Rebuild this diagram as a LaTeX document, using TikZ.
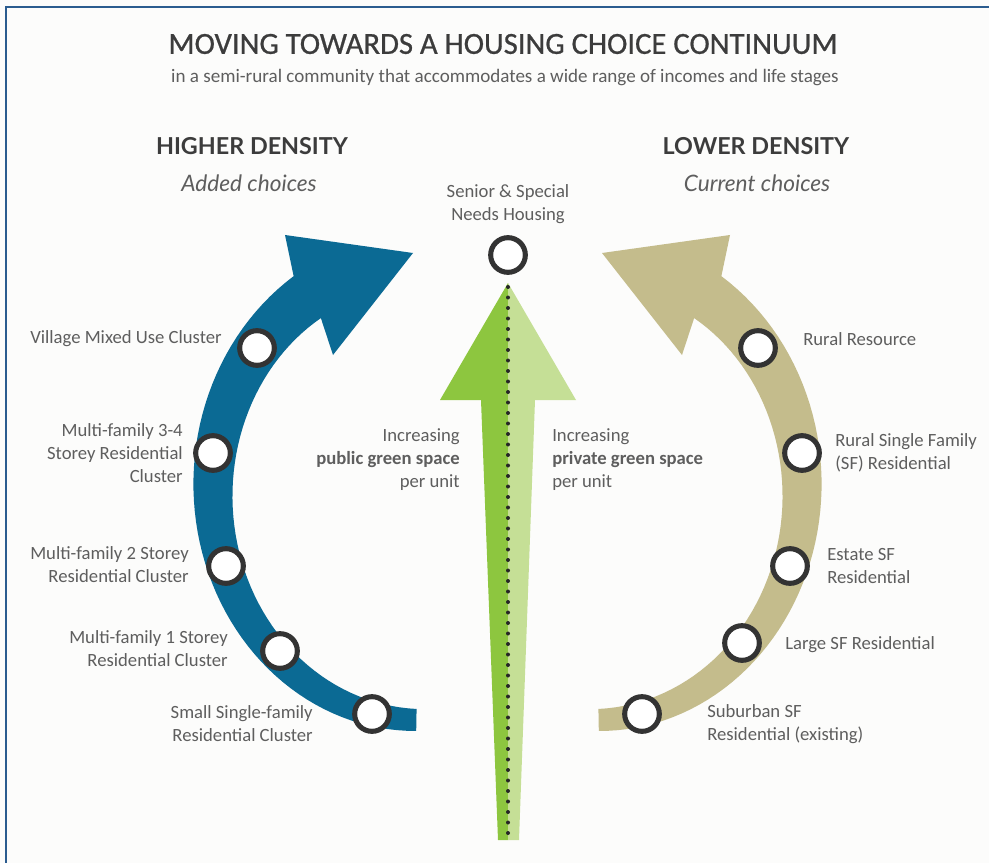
\documentclass[tikz,border=0pt]{standalone}
\usepackage{fontspec}
\setmainfont{Carlito}
\newfontfamily\headfont{Lato}
\newfontfamily\titlefont[FakeBold=0.7]{Carlito}
\begin{document}
\definecolor{framecol}{HTML}{2B5C8F}
\definecolor{bgcol}{HTML}{FCFCFB}
\definecolor{titlecol}{HTML}{3C3C3C}
\definecolor{labelcol}{HTML}{5E5E5E}
\definecolor{bluearr}{HTML}{0B6A94}
\definecolor{tanarr}{HTML}{C4BC8C}
\definecolor{greendark}{HTML}{8DC63F}
\definecolor{greenlight}{HTML}{C5DF96}
\definecolor{ringcol}{HTML}{333333}
\begin{tikzpicture}[x=0.75pt,y=-0.75pt,
  ring/.style={circle,draw=ringcol,line width=3.8pt,fill=white,minimum size=26pt,inner sep=0pt},
  lbl/.style={text=labelcol,inner sep=0pt,font=\fontsize{14}{17.25}\selectfont},
  lblL/.style={lbl,anchor=east,align=right},
  lblR/.style={lbl,anchor=west,align=left},
  heading/.style={text=titlecol,inner sep=0pt,font=\headfont\bfseries\fontsize{17.5}{20}\selectfont},
  subhead/.style={text=labelcol,inner sep=0pt,font=\headfont\itshape\fontsize{17}{20}\selectfont},
  dots/.style={draw=black!85,line width=3pt,line cap=round,dash pattern=on 0pt off 7.875pt}
]
\clip (0,0) rectangle (989,863);
\fill[bgcol] (0,0) rectangle (989,863);
\draw[framecol,line width=1.6pt] (6,7) rectangle (1010,900);

% titles
\node[text=titlecol,inner sep=0pt,font=\titlefont\fontsize{23}{26}\selectfont] (title) at (503,44) {MOVING TOWARDS A HOUSING CHOICE CONTINUUM};
\node[text=labelcol,inner sep=0pt,font=\fontsize{14.3}{17}\selectfont] (subtitle) at (505,78) {in a semi-rural community that accommodates a wide range of incomes and life stages};

\node[heading] (hd) at (252,146) {HIGHER DENSITY};
\node[subhead] (hdsub) at (249,183) {Added choices};
\node[heading] (ld) at (756,146) {LOWER DENSITY};
\node[subhead] (ldsub) at (757,183) {Current choices};

% curved band with arrow head, used on both sides
\newcommand{\bandpath}{%
  plot[domain=91:237,samples=60,variable=\t]
    ({420+(207+11+0.0959*(\t-91))*cos(\t)},{490+(230+11+0.0959*(\t-91))*sin(\t)})
  -- (285,235) -- (413,253) -- (333,355) --
  plot[domain=237:91,samples=60,variable=\t]
    ({420+(207-11-0.0959*(\t-91))*cos(\t)},{490+(230-11-0.0959*(\t-91))*sin(\t)})
  -- cycle}
\fill[bluearr] \bandpath;
\begin{scope}[shift={(1015,0)},xscale=-1]
  \fill[tanarr] \bandpath;
\end{scope}

% central green arrow
\fill[greendark] (508,283) -- (440,400) -- (481,400) -- (498,840) -- (508,840) -- cycle;
\fill[greenlight] (508,283) -- (576,400) -- (535,400) -- (519,840) -- (508,840) -- cycle;
\coordinate (dtop) at (508,287);
\coordinate (dbot) at (508,840);
\draw[dots] (dtop) -- (dbot);

% rings
\node[ring] (senior) at (508,255) {};
\node[ring] (l1) at (257,348) {};
\node[ring] (l2) at (213,453) {};
\node[ring] (l3) at (226,566) {};
\node[ring] (l4) at (280,651) {};
\node[ring] (l5) at (372,714) {};
\node[ring] (r1) at (758,348) {};
\node[ring] (r2) at (802,453) {};
\node[ring] (r3) at (790,566) {};
\node[ring] (r4) at (742,643) {};
\node[ring] (r5) at (642,714) {};

% labels
\node[lbl,align=center] (seniorlbl) at (508,204) {Senior \& Special\\Needs Housing};
\node[lblL] (t1) at (222,339) {Village Mixed Use Cluster};
\node[lblL] (t2) at (183,453) {Multi-family 3-4\\Storey Residential\\Cluster};
\node[lblL] (t3) at (189,565) {Multi-family 2 Storey\\Residential Cluster};
\node[lblL] (t4) at (228,649) {Multi-family 1 Storey\\Residential Cluster};
\node[lblL] (t5) at (313,724) {Small Single-family\\Residential Cluster};
\node[lblR] (s1) at (803,339) {Rural Resource};
\node[lblR] (s2) at (835,453) {Rural Single Family\\(SF) Residential};
\node[lblR] (s3) at (827,566) {Estate SF\\Residential};
\node[lblR] (s4) at (785,645) {Large SF Residential};
\node[lblR] (s5) at (707,724) {Suburban SF\\Residential (existing)};
\node[lblL] (pub) at (460,460) {Increasing\\\textbf{public green space}\\per unit};
\node[lblR] (priv) at (552,460) {Increasing\\\textbf{private green space}\\per unit};
\end{tikzpicture}
\end{document}
